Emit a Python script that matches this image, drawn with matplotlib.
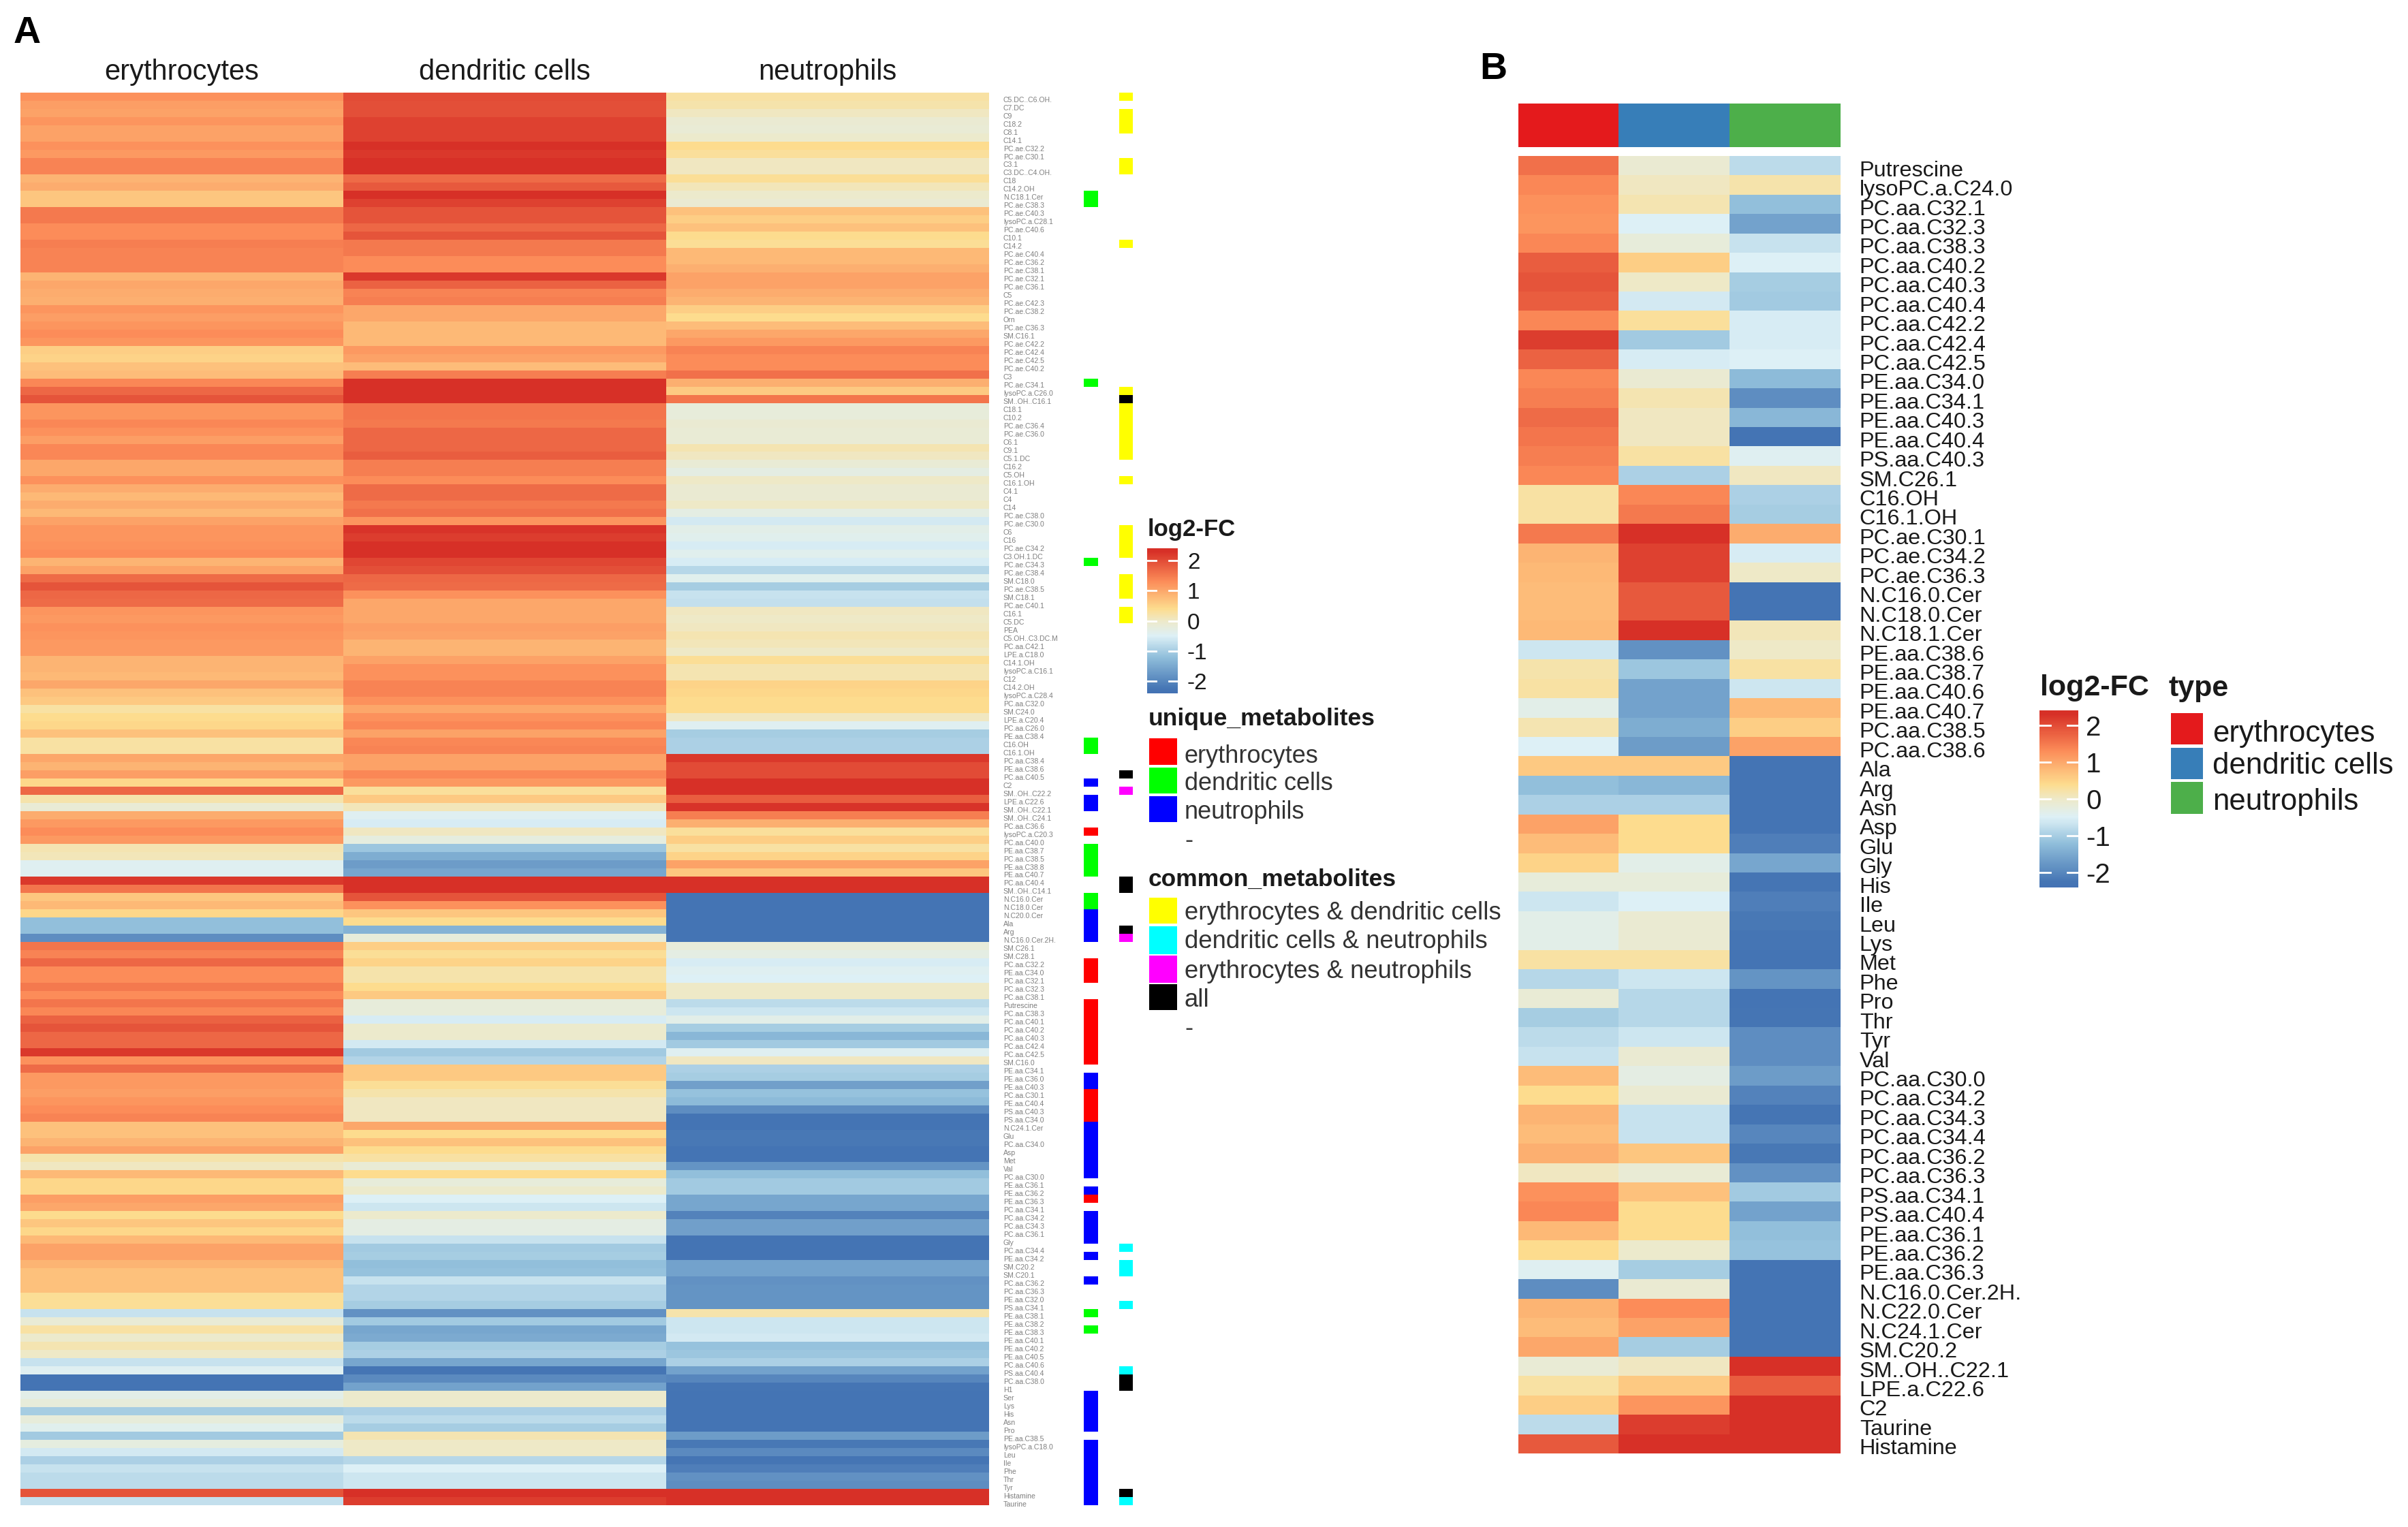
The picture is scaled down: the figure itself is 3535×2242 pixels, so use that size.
import numpy as np
from matplotlib import pyplot as plt
from matplotlib.colors import LinearSegmentedColormap, ListedColormap, Normalize
from matplotlib.cm import ScalarMappable
from matplotlib.patches import Rectangle

W, H = 3535, 2242
plt.rcParams['font.family'] = ['Liberation Sans', 'DejaVu Sans']

cell_types = ['erythrocytes', 'dendritic cells', 'neutrophils']
type_colors = ['#E41A1C', '#377EB8', '#4DAF4A']

# panel A, top to bottom
a_labels = [
    'C5.DC..C6.OH.', 'C7.DC', 'C9', 'C18.2', 'C8.1', 'C14.1', 'PC.ae.C32.2', 'PC.ae.C30.1', 'C3.1', 'C3.DC..C4.OH.',
    'C18', 'C14.2.OH', 'N.C18.1.Cer', 'PC.ae.C38.3', 'PC.ae.C40.3', 'lysoPC.a.C28.1', 'PC.ae.C40.6', 'C10.1', 'C14.2', 'PC.ae.C40.4',
    'PC.ae.C36.2', 'PC.ae.C38.1', 'PC.ae.C32.1', 'PC.ae.C36.1', 'C5', 'PC.ae.C42.3', 'PC.ae.C38.2', 'Orn', 'PC.ae.C36.3', 'SM.C16.1',
    'PC.ae.C42.2', 'PC.ae.C42.4', 'PC.ae.C42.5', 'PC.ae.C40.2', 'C3', 'PC.ae.C34.1', 'lysoPC.a.C26.0', 'SM..OH..C16.1', 'C18.1', 'C10.2',
    'PC.ae.C36.4', 'PC.ae.C36.0', 'C6.1', 'C9.1', 'C5.1.DC', 'C16.2', 'C5.OH', 'C16.1.OH', 'C4.1', 'C4',
    'C14', 'PC.ae.C38.0', 'PC.ae.C30.0', 'C6', 'C16', 'PC.ae.C34.2', 'C3.OH.1.DC', 'PC.ae.C34.3', 'PC.ae.C38.4', 'SM.C18.0',
    'PC.ae.C38.5', 'SM.C18.1', 'PC.ae.C40.1', 'C16.1', 'C5.DC', 'PEA', 'C5.OH..C3.DC.M', 'PC.aa.C42.1', 'LPE.a.C18.0', 'C14.1.OH',
    'lysoPC.a.C16.1', 'C12', 'C14.2.OH', 'lysoPC.a.C28.4', 'PC.aa.C32.0', 'SM.C24.0', 'LPE.a.C20.4', 'PC.aa.C26.0', 'PE.aa.C38.4', 'C16.OH',
    'C16.1.OH', 'PC.aa.C38.4', 'PE.aa.C38.6', 'PC.aa.C40.5', 'C2', 'SM..OH..C22.2', 'LPE.a.C22.6', 'SM..OH..C22.1', 'SM..OH..C24.1', 'PC.aa.C36.6',
    'lysoPC.a.C20.3', 'PC.aa.C40.0', 'PE.aa.C38.7', 'PC.aa.C38.5', 'PE.aa.C38.8', 'PE.aa.C40.7', 'PC.aa.C40.4', 'SM..OH..C14.1', 'N.C16.0.Cer', 'N.C18.0.Cer',
    'N.C20.0.Cer', 'Ala', 'Arg', 'N.C16.0.Cer.2H.', 'SM.C26.1', 'SM.C28.1', 'PC.aa.C32.2', 'PE.aa.C34.0', 'PC.aa.C32.1', 'PC.aa.C32.3',
    'PC.aa.C38.1', 'Putrescine', 'PC.aa.C38.3', 'PC.aa.C40.1', 'PC.aa.C40.2', 'PC.aa.C40.3', 'PC.aa.C42.4', 'PC.aa.C42.5', 'SM.C16.0', 'PE.aa.C34.1',
    'PE.aa.C36.0', 'PE.aa.C40.3', 'PC.aa.C30.1', 'PE.aa.C40.4', 'PS.aa.C40.3', 'PS.aa.C34.0', 'N.C24.1.Cer', 'Glu', 'PC.aa.C34.0', 'Asp',
    'Met', 'Val', 'PC.aa.C30.0', 'PE.aa.C36.1', 'PE.aa.C36.2', 'PE.aa.C36.3', 'PC.aa.C34.1', 'PC.aa.C34.2', 'PC.aa.C34.3', 'PC.aa.C36.1',
    'Gly', 'PC.aa.C34.4', 'PE.aa.C34.2', 'SM.C20.2', 'SM.C20.1', 'PC.aa.C36.2', 'PC.aa.C36.3', 'PE.aa.C32.0', 'PS.aa.C34.1', 'PE.aa.C38.1',
    'PE.aa.C38.2', 'PE.aa.C38.3', 'PE.aa.C40.1', 'PE.aa.C40.2', 'PE.aa.C40.5', 'PC.aa.C40.6', 'PS.aa.C40.4', 'PC.aa.C38.0', 'H1', 'Ser',
    'Lys', 'His', 'Asn', 'Pro', 'PE.aa.C38.5', 'lysoPC.a.C18.0', 'Leu', 'Ile', 'Phe', 'Thr',
    'Tyr', 'Histamine', 'Taurine',
]
a_ery = [
    1.25, 1.1, 1.05, 1.2, 1.05, 1.05, 1.25, 1.15, 1.4, 1.4, 0.85, 0.95, 0.65, 0.65, 1.5, 1.5, 1.3, 1.3, 1.45, 1.4,
    1.4, 1.4, 0.85, 1.0, 0.95, 0.9, 1.2, 1.1, 1.2, 1.3, 1.2, 0.55, 0.5, 0.7, 0.75,
    1.35, 1.7, 1.9, 1.2, 1.2, 1.35, 1.25, 1.1, 1.35, 1.35, 1.0, 1.0, 1.25, 0.95, 0.8, 0.95, 0.8, 1.05, 1.2, 1.2,
    1.25, 1.3, 0.85, 1.05, 1.65, 1.9, 1.7, 1.65, 1.2, 1.15, 1.25, 1.2, 1.15, 1.15, 0.85, 0.85, 0.8, 1.0, 0.7, 0.6,
    0.25, 0.4, 0.45, 0.7, 0.25, 0.25, 1.0,
    0.85, 1.1, 0.45, 1.7, 0.2, -0.15, 0.95, 1.15, 1.3, 1.15, 0.15, 0.1, -0.45, -0.45, 2.2, 1.55, 0.65, 0.8, 0.45,
    -1.2, -1.2, -1.9, 1.55, 1.4, 1.7, 1.3, 1.3, 1.5, 1.3, 1.55, 1.35, 1.75, 1.9, 1.7, 1.7, 2.2, 1.25, 1.65, 1.15,
    1.15, 1.1, 1.2, 1.3, 1.4, 0.7, 0.7, 0.85,
    1.05, 0.2, 0.05, 0.8, 0.45, 0.45, 1.1, 1.0, 0.4, 0.65, 0.45, 0.8, 1.05, 1.05, 0.85, 0.7, 0.7, 0.7, 0.35, 0.35,
    -0.7, -0.15, 0.25, -0.05, 0.15, 0.0, -0.7, -0.45, -2.3, -2.3, -0.35, -0.2, -1.0, -0.2, -0.4, -1.05, -0.25, -0.6, -0.95, -0.7,
    -0.8, -0.8, 1.9, -0.75,
]
a_dc = [
    2.0, 1.95, 1.95, 2.1, 2.1, 2.1, 2.3, 2.2, 2.3, 2.3, 1.65, 1.85, 2.3, 2.1, 1.9, 1.9, 1.7, 1.9, 1.5, 1.5,
    1.3, 1.3, 2.2, 1.75, 1.4, 1.45, 1.0, 1.0, 0.8, 0.8, 0.8, 1.15, 1.05, 0.75, 1.45,
    2.3, 2.3, 2.3, 1.55, 1.55, 1.5, 1.7, 1.7, 1.7, 1.8, 1.45, 1.45, 1.3, 1.65, 1.65, 1.5, 1.6, 1.2, 2.25, 2.15,
    2.3, 2.3, 2.05, 1.95, 1.7, 1.65, 1.25, 1.0, 1.0, 1.0, 1.1, 1.05, 0.85, 0.85, 1.05, 1.25, 1.25, 1.4, 1.4, 1.25,
    1.0, 1.25, 1.35, 1.05, 1.35, 1.4, 1.05,
    1.05, 1.35, 1.15, 0.3, 0.6, 0.1, -0.45, -0.55, 0.05, -0.25, -1.1, -1.45, -1.7, -1.55, 2.3, 2.3, 1.9, 1.25, 0.65,
    0.4, -1.35, -0.2, 0.55, 0.35, 0.5, 0.2, 0.2, 0.4, 0.6, -0.2, -0.2, -0.55, -0.05, -0.05, -0.6, -1.05, -0.9, 0.6, 0.6,
    0.35, 0.2, 0.05, 0.05, 0.05, 1.0, 0.4, 0.7,
    0.4, 0.25, -0.15, 0.4, -0.2, -0.05, -0.5, -0.65, -0.05, -0.3, -0.3, -0.7, -1.05, -1.0, -1.2, -1.15, -0.7, -0.9, -0.9, -1.0,
    -1.85, -1.05, -1.55, -1.5, -1.0, -0.95, -1.55, -2.25, -1.95, -1.6, -0.05, -0.05, -0.95, -0.8, -1.0, 0.15, 0.0, 0.0, -0.85, -0.5,
    -0.65, -0.65, 2.35, 2.15,
]
a_neu = [
    0.25, 0.2, 0.05, -0.1, -0.15, -0.05, 0.4, 0.3, 0.05, 0.05, 0.35, 0.1, -0.05, -0.1, 0.7, 0.55, 0.7, 0.4, 0.35, 0.8,
    0.8, 0.9, 1.05, 1.05, 0.95, 0.85, 0.55, 0.4, 0.75, 1.0, 1.15, 1.4, 1.3, 1.3, 1.6,
    0.9, 0.6, 1.55, -0.2, -0.2, -0.1, -0.15, -0.15, 0.15, 0.05, -0.15, -0.3, 0.0, -0.1, -0.1, 0.0, -0.3, -0.6, -0.35, -0.4,
    -0.55, -0.4, -0.55, -0.85, -0.4, -1.0, -0.7, -0.75, 0.05, 0.0, 0.05, 0.15, 0.1, 0.0, 0.35, 0.15, 0.15, 0.5, 0.45, 0.4,
    0.4, 0.05, -0.45, -1.0, -0.95, -0.95, 2.2,
    2.0, 2.0, 2.3, 2.3, 1.8, 2.25, 1.45, 0.9, 0.3, 0.55, 0.25, 0.5, 1.05, 0.65, 2.3, 2.3, -2.3, -2.3, -2.3,
    -2.3, -2.3, -2.3, -0.2, -0.3, -0.55, -0.45, -0.5, 0.0, 0.0, -0.8, -0.65, -0.35, -1.0, -1.3, -1.05, -0.45, 0.05, -0.95, -1.0,
    -1.65, -1.15, -1.25, -1.9, -2.3, -2.3, -2.2, -2.2,
    -2.3, -2.3, -1.8, -1.2, -1.05, -1.05, -1.55, -1.55, -2.05, -1.65, -1.65, -2.3, -2.3, -2.3, -1.6, -1.6, -1.85, -1.8, -1.8, -1.8,
    0.2, -0.65, -0.65, -0.6, -1.15, -1.1, -0.95, -1.6, -2.0, -2.25, -2.3, -2.3, -2.3, -2.3, -2.3, -1.7, -2.2, -1.95, -2.25, -2.1,
    -1.85, -1.9, 2.3, 2.3,
]

# rows of panel A carrying each annotation
unique_ery = [90, 106, 107, 108, 111, 112, 113, 114, 115, 116, 117, 118, 122, 123, 124, 125, 135]
unique_dc = [12, 13, 35, 57, 79, 80, 92, 93, 94, 95, 98, 99, 149, 151]
unique_neu = [84, 86, 87, 100, 101, 102, 103, 120, 121, 126, 127, 128, 129, 130, 131, 132, 134, 137, 138, 139,
              140, 142, 145, 159, 160, 161, 162, 163, 165, 166, 167, 168, 169, 170, 171, 172]
common_ed = [0, 2, 3, 4, 8, 9, 18, 36, 38, 39, 40, 41, 42, 43, 44, 47, 53, 54, 55, 56, 59, 60, 61, 63, 64]
common_dn = [141, 143, 144, 148, 156, 172]
common_en = [85, 103]
common_all = [37, 83, 96, 97, 102, 157, 158, 171]

# panel B
b_labels = [
    'Putrescine', 'lysoPC.a.C24.0', 'PC.aa.C32.1', 'PC.aa.C32.3', 'PC.aa.C38.3', 'PC.aa.C40.2', 'PC.aa.C40.3',
    'PC.aa.C40.4', 'PC.aa.C42.2', 'PC.aa.C42.4', 'PC.aa.C42.5', 'PE.aa.C34.0', 'PE.aa.C34.1', 'PE.aa.C40.3',
    'PE.aa.C40.4', 'PS.aa.C40.3', 'SM.C26.1', 'C16.OH', 'C16.1.OH', 'PC.ae.C30.1', 'PC.ae.C34.2', 'PC.ae.C36.3',
    'N.C16.0.Cer', 'N.C18.0.Cer', 'N.C18.1.Cer', 'PE.aa.C38.6', 'PE.aa.C38.7', 'PE.aa.C40.6', 'PE.aa.C40.7',
    'PC.aa.C38.5', 'PC.aa.C38.6', 'Ala', 'Arg', 'Asn', 'Asp', 'Glu', 'Gly', 'His', 'Ile', 'Leu', 'Lys', 'Met',
    'Phe', 'Pro', 'Thr', 'Tyr', 'Val', 'PC.aa.C30.0', 'PC.aa.C34.2', 'PC.aa.C34.3', 'PC.aa.C34.4', 'PC.aa.C36.2',
    'PC.aa.C36.3', 'PS.aa.C34.1', 'PS.aa.C40.4', 'PE.aa.C36.1', 'PE.aa.C36.2', 'PE.aa.C36.3', 'N.C16.0.Cer.2H.',
    'N.C22.0.Cer', 'N.C24.1.Cer', 'SM.C20.2', 'SM..OH..C22.1', 'LPE.a.C22.6', 'C2', 'Taurine', 'Histamine',
]
b_ery = [1.6, 1.35, 1.25, 1.2, 1.35, 1.8, 1.9, 1.8, 1.35, 2.15, 1.75, 1.35, 1.45, 1.65, 1.55, 1.45, 1.35, 0.25, 0.25,
         1.5, 0.85, 0.8, 0.75, 0.75, 0.8, -0.65, 0.2, 0.25, -0.35, 0.15, -0.5, 0.6, -1.2, -0.95, 1.05, 0.75, 0.5,
         -0.2, -0.65, -0.35, -0.35, 0.25, -0.85, -0.15, -1.0, -0.8, -0.7, 0.75, 0.4, 0.85, 0.75, 0.9, 0.05, 1.25,
         1.35, 0.8, 0.4, -0.45, -1.9, 0.85, 0.75, 1.0, -0.15, 0.25, 0.55, -0.8, 1.85]
b_dc = [-0.1, 0.05, 0.15, -0.5, -0.2, 0.55, 0.0, -0.6, 0.3, -1.05, -0.55, -0.1, 0.15, 0.05, 0.05, 0.25, -0.95, 1.35,
        1.5, 2.3, 2.1, 2.1, 1.85, 1.85, 2.3, -1.85, -1.1, -1.6, -1.6, -1.45, -1.7, 0.6, -1.3, -0.95, 0.4, 0.4, -0.35,
        -0.2, -0.5, -0.1, -0.1, 0.25, -0.65, -0.85, -0.85, -0.65, -0.1, -0.3, -0.1, -0.7, -0.7, 0.65, -0.15, 0.7,
        0.4, 0.4, -0.05, -1.0, -0.1, 1.3, 1.05, -1.0, 0.05, 0.6, 1.2, 2.15, 2.3]
b_neu = [-0.8, 0.2, -1.2, -1.6, -0.7, -0.5, -1.0, -1.05, -0.55, -0.55, -0.5, -1.25, -1.9, -1.3, -2.3, -0.45, 0.05,
         -0.95, -1.0, 0.95, -0.55, 0.0, -2.3, -2.3, 0.1, 0.0, 0.25, -0.65, 0.8, 0.55, 1.05, -2.3, -2.3, -2.3, -2.3,
         -2.1, -1.55, -2.25, -2.1, -2.2, -2.25, -2.3, -1.8, -2.3, -2.25, -1.9, -1.9, -1.7, -2.05, -2.25, -2.0, -2.2,
         -1.85, -1.05, -1.6, -1.2, -1.15, -2.3, -2.3, -2.3, -2.3, -2.3, 2.3, 1.8, 2.3, 2.3, 2.3]

fc_ticks = [2, 1, 0, -1, -2]
unique_names = ['erythrocytes', 'dendritic cells', 'neutrophils', '-']
unique_colors = ['#FF0000', '#00FF00', '#0000FF']
common_names = ['erythrocytes & dendritic cells', 'dendritic cells & neutrophils', 'erythrocytes & neutrophils', 'all', '-']
common_colors = ['#FFFF00', '#00FFFF', '#FF00FF', '#000000']

norm = Normalize(-2.4, 2.4)
nodes = [(-2.4, '#4372B4'), (-2.25, '#4575B4'), (-1.2, '#91BFDB'), (-0.5, '#DDF0F6'), (0, '#EEE9C8'),
         (0.4, '#FDDC8E'), (1.3, '#FC8D59'), (2.3, '#D73027'), (2.4, '#D73027')]
fc_cmap = LinearSegmentedColormap.from_list('fc', [(norm(v), c) for v, c in nodes])

fig = plt.figure(figsize=(W / 100, H / 100), dpi=100, facecolor='white')


def add_ax(x0, y0, x1, y1):
    # pixel box, y counted from the top
    return fig.add_axes([x0 / W, 1 - y1 / H, (x1 - x0) / W, (y1 - y0) / H])


def put_text(x, y, s, size, weight='normal', color='#1a1a1a', ha='left'):
    fig.text(x / W, 1 - y / H, s, fontsize=size, fontweight=weight, color=color, ha=ha, va='center')


def add_box(x0, y0, x1, y1, color):
    fig.add_artist(Rectangle((x0 / W, 1 - y1 / H), (x1 - x0) / W, (y1 - y0) / H, color=color,
                             lw=0, transform=fig.transFigure))


def add_fc_bar(x0, y0, x1, y1, size, pad):
    cax = add_ax(x0, y0, x1, y1)
    cb = fig.colorbar(ScalarMappable(norm=norm, cmap=fc_cmap), cax=cax, ticks=fc_ticks)
    cb.outline.set_visible(False)
    cb.ax.tick_params(length=0, labelsize=size, pad=pad, labelcolor='#1a1a1a')
    cb.ax.set_yticklabels([str(t) for t in fc_ticks])
    for t in fc_ticks:
        cb.ax.plot([0, 0.28], [t, t], color='white', lw=2, transform=cb.ax.get_yaxis_transform())
        cb.ax.plot([0.72, 1], [t, t], color='white', lw=2, transform=cb.ax.get_yaxis_transform())


def draw_heat(ax, matrix, col_edges, labels, size, color, shift):
    ax.pcolormesh(col_edges, np.arange(len(labels) + 1), matrix, cmap=fc_cmap, norm=norm)
    ax.set_ylim(len(labels), 0)
    ax.set_xticks([])
    ax.set_yticks(np.arange(len(labels)) + 0.5 + shift)
    ax.set_yticklabels(labels, fontsize=size, color=color)
    ax.yaxis.tick_right()
    ax.tick_params(axis='y', length=0)
    for s in ax.spines.values():
        s.set_visible(False)


# A
ax_a = add_ax(30, 136, 1452, 2210)
draw_heat(ax_a, np.array([a_ery, a_dc, a_neu]).T, [0, 1, 2, 3], a_labels, 7.6, '#7f7f7f', 0.3)
ax_a.tick_params(axis='y', pad=15)
for i, name in enumerate(cell_types):
    ax_a.text(i + 0.5, -2.5, name, fontsize=30, ha='center', va='center', color='#1a1a1a')

n_rows = len(a_labels)
unique_track = np.full((n_rows, 1), np.nan)
for k, rows in enumerate([unique_ery, unique_dc, unique_neu]):
    unique_track[rows, 0] = k
common_track = np.full((n_rows, 1), np.nan)
for k, rows in enumerate([common_ed, common_dn, common_en, common_all]):
    common_track[rows, 0] = k
ax_u = add_ax(1591, 136, 1612, 2210)
ax_u.imshow(unique_track, cmap=ListedColormap(unique_colors), vmin=0, vmax=2, aspect='auto', interpolation='nearest')
ax_u.axis('off')
ax_c = add_ax(1643, 136, 1663, 2210)
ax_c.imshow(common_track, cmap=ListedColormap(common_colors), vmin=0, vmax=3, aspect='auto', interpolation='nearest')
ax_c.axis('off')

put_text(20, 49, 'A', 40, 'bold', 'black')
put_text(1685, 778, 'log2-FC', 25, 'bold')
add_fc_bar(1684, 805, 1729, 1018, 24, 10)
put_text(1686, 1056, 'unique_metabolites', 25.5, 'bold')
for y0, y1, c, name, y in zip([1084, 1127, 1169], [1123, 1165, 1207], unique_colors, unique_names, [1110, 1151, 1192]):
    add_box(1687, y0, 1728, y1, c)
    put_text(1739, y, name, 26, color='#333333')
put_text(1739, 1235, unique_names[3], 26, color='#333333')
put_text(1686, 1291, 'common_metabolites', 25.5, 'bold')
for y0, y1, c, name, y in zip([1318, 1360, 1403, 1445], [1356, 1401, 1443, 1483], common_colors, common_names,
                              [1341, 1383, 1427, 1468]):
    add_box(1687, y0, 1728, y1, c)
    put_text(1739, y, name, 26.3, color='#333333')
put_text(1739, 1511, common_names[4], 26, color='#333333')

# B, the first column is narrower than the other two
b_edges = [0, 147, 310, 473]
ax_s = add_ax(2229, 152, 2702, 216)
ax_s.pcolormesh(b_edges, [0, 1], [[0, 1, 2]], cmap=ListedColormap(type_colors))
ax_s.axis('off')
ax_b = add_ax(2229, 229, 2702, 2134)
draw_heat(ax_b, np.array([b_ery, b_dc, b_neu]).T, b_edges, b_labels, 23.3, '#1a1a1a', 0.14)
ax_b.tick_params(axis='y', pad=20)

put_text(2172, 102, 'B', 40, 'bold', 'black')
put_text(2995, 1010, 'log2-FC', 31, 'bold')
add_fc_bar(2994, 1043, 3051, 1303, 29, 8)
put_text(3184, 1011, 'type', 31, 'bold')
for y0, y1, c, name, y in zip([1047, 1098, 1148], [1093, 1144, 1195], type_colors, cell_types, [1077, 1125, 1177]):
    add_box(3187, y0, 3234, y1, c)
    put_text(3248, y, name, 31.5, color='#1a1a1a')

fig.savefig('out.png', dpi=100)
